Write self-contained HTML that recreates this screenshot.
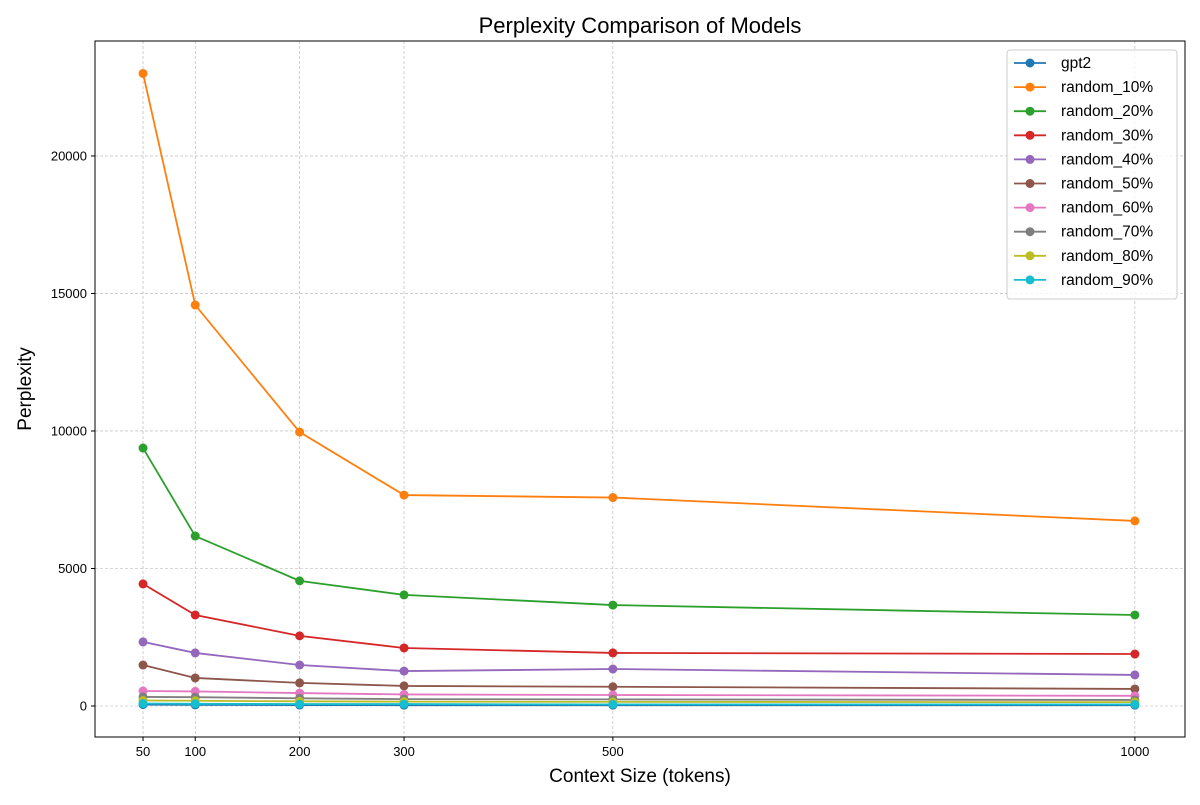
<!DOCTYPE html>
<html><head><meta charset="utf-8"><style>
body{margin:0;background:#fff;font-family:"Liberation Sans","DejaVu Sans",sans-serif}
</style></head><body>
<svg id="chart" width="1200" height="800" xmlns="http://www.w3.org/2000/svg"></svg>
<script>
const categories=[50,100,200,300,500,1000];
const seriesNames=["gpt2","random_10%","random_20%","random_30%","random_40%","random_50%","random_60%","random_70%","random_80%","random_90%"];
const gpt2=[50,40,35,30,30,30];
const r10=[23000,14580,9960,7670,7580,6730];
const r20=[9380,6180,4550,4040,3670,3310];
const r30=[4440,3310,2550,2110,1930,1890];
const r40=[2330,1930,1490,1270,1345,1130];
const r50=[1490,1020,840,730,700,620];
const r60=[545,530,470,420,400,370];
const r70=[330,320,280,250,240,220];
const r80=[200,190,170,160,150,140];
const r90=[90,80,70,70,60,60];
const yTicks=[0,5000,10000,15000,20000];
const xTicks=[50,100,200,300,500,1000];
const colors=["#1f77b4","#ff7f0e","#2ca02c","#d62728","#9467bd","#8c564b","#e377c2","#7f7f7f","#bcbd22","#17becf"];
const allSeries=[gpt2,r10,r20,r30,r40,r50,r60,r70,r80,r90];
const L=95,R=1185,T=41,B=737;
const X0=4,X1=1048,Y0=-1127,Y1=24180;
const sx=v=>L+(v-X0)/(X1-X0)*(R-L);
const sy=v=>B-(v-Y0)/(Y1-Y0)*(B-T);
const svg=document.getElementById('chart');
const NS="http://www.w3.org/2000/svg";
function mk(tag,attrs,parent){const e=document.createElementNS(NS,tag);for(const k in attrs)e.setAttribute(k,attrs[k]);(parent||svg).appendChild(e);return e;}
const grid=mk('g',{});


xTicks.forEach(t=>{mk('line',{x1:sx(t),x2:sx(t),y1:T,y2:B,stroke:'#b0b0b0','stroke-width':0.6,'stroke-dasharray':'3,2'},grid);});
yTicks.forEach(t=>{mk('line',{x1:L,x2:R,y1:sy(t),y2:sy(t),stroke:'#b0b0b0','stroke-width':0.6,'stroke-dasharray':'3,2'},grid);});
const xt=mk('g',{});


xTicks.forEach(t=>{mk('line',{x1:sx(t),x2:sx(t),y1:B,y2:B+4,stroke:'#000'},xt);const tx=mk('text',{x:sx(t),y:B+19,'text-anchor':'middle','font-size':13},xt);tx.textContent=t;});
const yt=mk('g',{});


yTicks.forEach(t=>{mk('line',{x1:L-4,x2:L,y1:sy(t),y2:sy(t),stroke:'#000'},yt);const tx=mk('text',{x:L-8,y:sy(t)+4.5,'text-anchor':'end','font-size':13},yt);tx.textContent=t;});
const ser=mk('g',{});


allSeries.forEach((s,i)=>{
  const g=mk('g',{},ser);
  
  
  mk('polyline',{points:s.map((v,j)=>sx(categories[j])+','+sy(v)).join(' '),fill:'none',stroke:colors[i],'stroke-width':1.8},g);
  s.forEach((v,j)=>{const c=mk('circle',{cx:sx(categories[j]),cy:sy(v),r:4.5,fill:colors[i]},g);
    
    });
});
mk('rect',{x:L,y:T,width:R-L,height:B-T,fill:'none',stroke:'#000','stroke-width':1});
const title=mk('text',{x:(L+R)/2,y:33,'text-anchor':'middle','font-size':22});
title.textContent='Perplexity Comparison of Models';


const xl=mk('text',{x:(L+R)/2,y:782,'text-anchor':'middle','font-size':19});
xl.textContent='Context Size (tokens)';


const yl=mk('text',{x:0,y:0,'text-anchor':'middle','font-size':19,transform:'translate(31,'+(T+B)/2+') rotate(-90)'});
yl.textContent='Perplexity';


const lg=mk('g',{});


mk('rect',{x:1007,y:50,width:170,height:249,rx:3,fill:'#fff','fill-opacity':0.8,stroke:'#ccc'},lg);
seriesNames.forEach((n,i)=>{
  const y=63+i*24.1;
  const e=mk('g',{},lg);
  
  
  mk('line',{x1:1014,x2:1046,y1:y,y2:y,stroke:colors[i],'stroke-width':1.8},e);
  mk('circle',{cx:1030,cy:y,r:4.5,fill:colors[i]},e);
  const t=mk('text',{x:1061,y:y+5,'font-size':15.5},e);t.textContent=n;
});
</script>
</body></html>
